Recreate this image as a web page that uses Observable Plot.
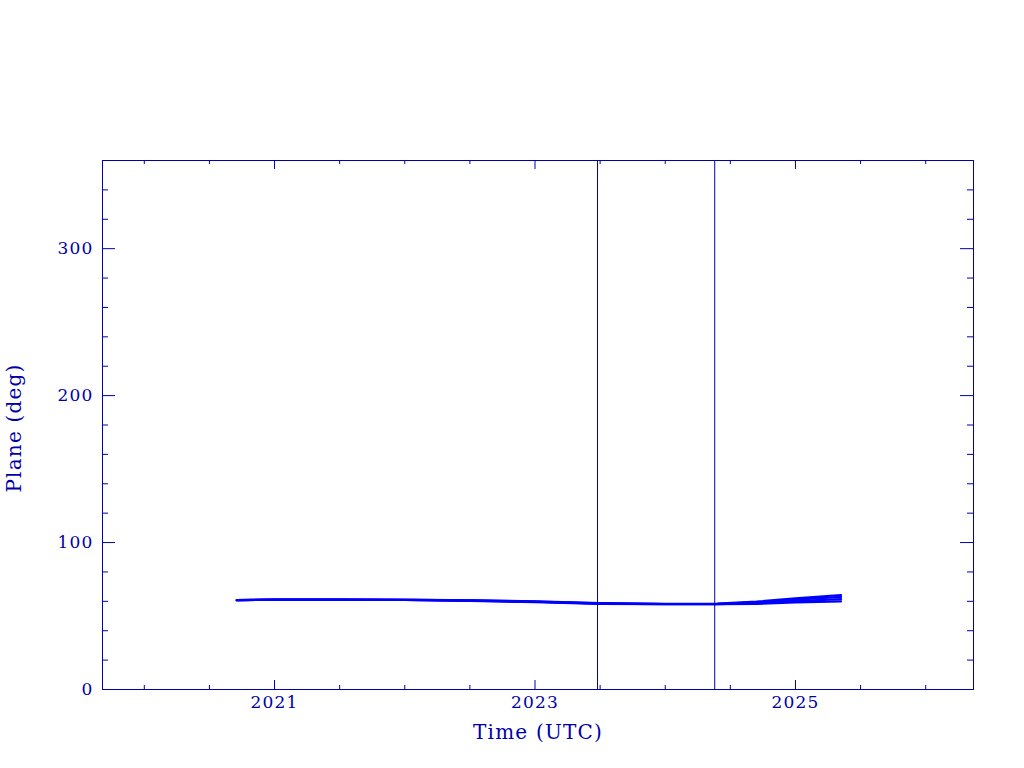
<!DOCTYPE html>
<html>
<head>
<meta charset="utf-8">
<script src="https://cdn.jsdelivr.net/npm/d3@7"></script>
<script src="https://cdn.jsdelivr.net/npm/@observablehq/plot@0.6"></script>
<style>
  html, body { margin: 0; padding: 0; background: #ffffff; }
  #chart { width: 1024px; height: 768px; }
  .title-text text { letter-spacing: 1.2px; }
</style>
</head>
<body>
<div id="chart"></div>
<script>
// ---- data ----
const times   = [2020.71, 2021.0, 2021.5, 2022.0, 2022.5, 2023.0, 2023.5, 2024.0, 2024.4, 2024.7, 2025.0, 2025.35];
const seriesA = [60.8, 61.0, 61.0, 60.9, 60.3, 59.5, 58.3, 58.0, 58.0, 58.3, 59.3, 60.0];
const seriesB = [60.8, 61.1, 61.1, 60.9, 60.5, 59.7, 58.5, 58.1, 58.1, 58.7, 60.2, 61.5];
const seriesC = [60.8, 61.1, 61.2, 61.0, 60.6, 59.8, 58.6, 58.2, 58.3, 59.3, 61.2, 63.0];
const seriesD = [60.8, 61.2, 61.2, 61.1, 60.7, 60.0, 58.8, 58.3, 58.5, 59.8, 62.0, 64.3];
const seriesNames = ["A", "B", "C", "D"];
const eventTimes = [2023.48, 2024.38];
const xMajorTicks = [2021, 2023, 2025];
const xMinorTicks = d3.range(2020, 2026.01, 0.5);
const yMajorTicks = [0, 100, 200, 300];
const yMinorTicks = d3.range(0, 361, 20);
const xLabel = "Time (UTC)";
const yLabel = "Plane (deg)";

// ---- build table ----
const allSeries = [seriesA, seriesB, seriesC, seriesD];
const rows = [];
allSeries.forEach((vals, si) => {
  vals.forEach((v, i) => rows.push({t: times[i], v, s: seriesNames[si]}));
});

const W = 1024, H = 768;
const mL = 102, mR = 51, mT = 160, mB = 79;
const plotW = W - mL - mR, plotH = H - mT - mB;
const ink = "#0000a8";
const dataColor = "#0000ff";
const font = "DejaVu Serif, serif";

const xMinorOnly = xMinorTicks.filter(t => !xMajorTicks.includes(t));
const yMinorOnly = yMinorTicks.filter(t => !yMajorTicks.includes(t));

const chart = Plot.plot({
  width: W, height: H,
  marginLeft: mL, marginRight: mR, marginTop: mT, marginBottom: mB,
  style: {fontFamily: font, fontSize: "17px", color: ink, background: "#fff"},
  x: {domain: [2019.679, 2026.367], label: null},
  y: {domain: [0, 360], label: null},
  marks: [
    // data lines
    Plot.line(rows, {x: "t", y: "v", z: "s", stroke: dataColor, strokeWidth: 2.2}),
    // event lines
    Plot.ruleX(eventTimes, {stroke: ink, strokeWidth: 1}),
    // ticks bottom / top
    Plot.ruleX(xMajorTicks, {stroke: ink, insetTop: plotH - 9}),
    Plot.ruleX(xMinorOnly, {stroke: ink, insetTop: plotH - 4}),
    Plot.ruleX(xMajorTicks, {stroke: ink, insetBottom: plotH - 9}),
    Plot.ruleX(xMinorOnly, {stroke: ink, insetBottom: plotH - 4}),
    // ticks left / right
    Plot.ruleY(yMajorTicks, {stroke: ink, insetRight: plotW - 13}),
    Plot.ruleY(yMinorOnly, {stroke: ink, insetRight: plotW - 6}),
    Plot.ruleY(yMajorTicks, {stroke: ink, insetLeft: plotW - 13}),
    Plot.ruleY(yMinorOnly, {stroke: ink, insetLeft: plotW - 6}),
    // tick labels
    Plot.axisX({ticks: xMajorTicks, tickSize: 0, tickPadding: 6, tickFormat: d => String(d), label: null, fill: ink, fontSize: 17, className: "title-text"}),
    Plot.axisY({ticks: yMajorTicks, tickSize: 0, tickPadding: 9, tickFormat: d => String(d), label: null, fill: ink, fontSize: 17, className: "title-text"}),
    // axis titles
    Plot.text([xLabel], {text: d => d, frameAnchor: "bottom", textAnchor: "middle", dy: 49, fill: ink, fontSize: 20, className: "title-text"}),
    Plot.text([yLabel], {text: d => d, frameAnchor: "left", textAnchor: "middle", dx: -88, dy: 3, rotate: -90, fill: ink, fontSize: 20, className: "title-text"}),
    Plot.frame({stroke: ink, strokeWidth: 1})
  ]
});
document.getElementById("chart").appendChild(chart);
</script>
</body>
</html>
